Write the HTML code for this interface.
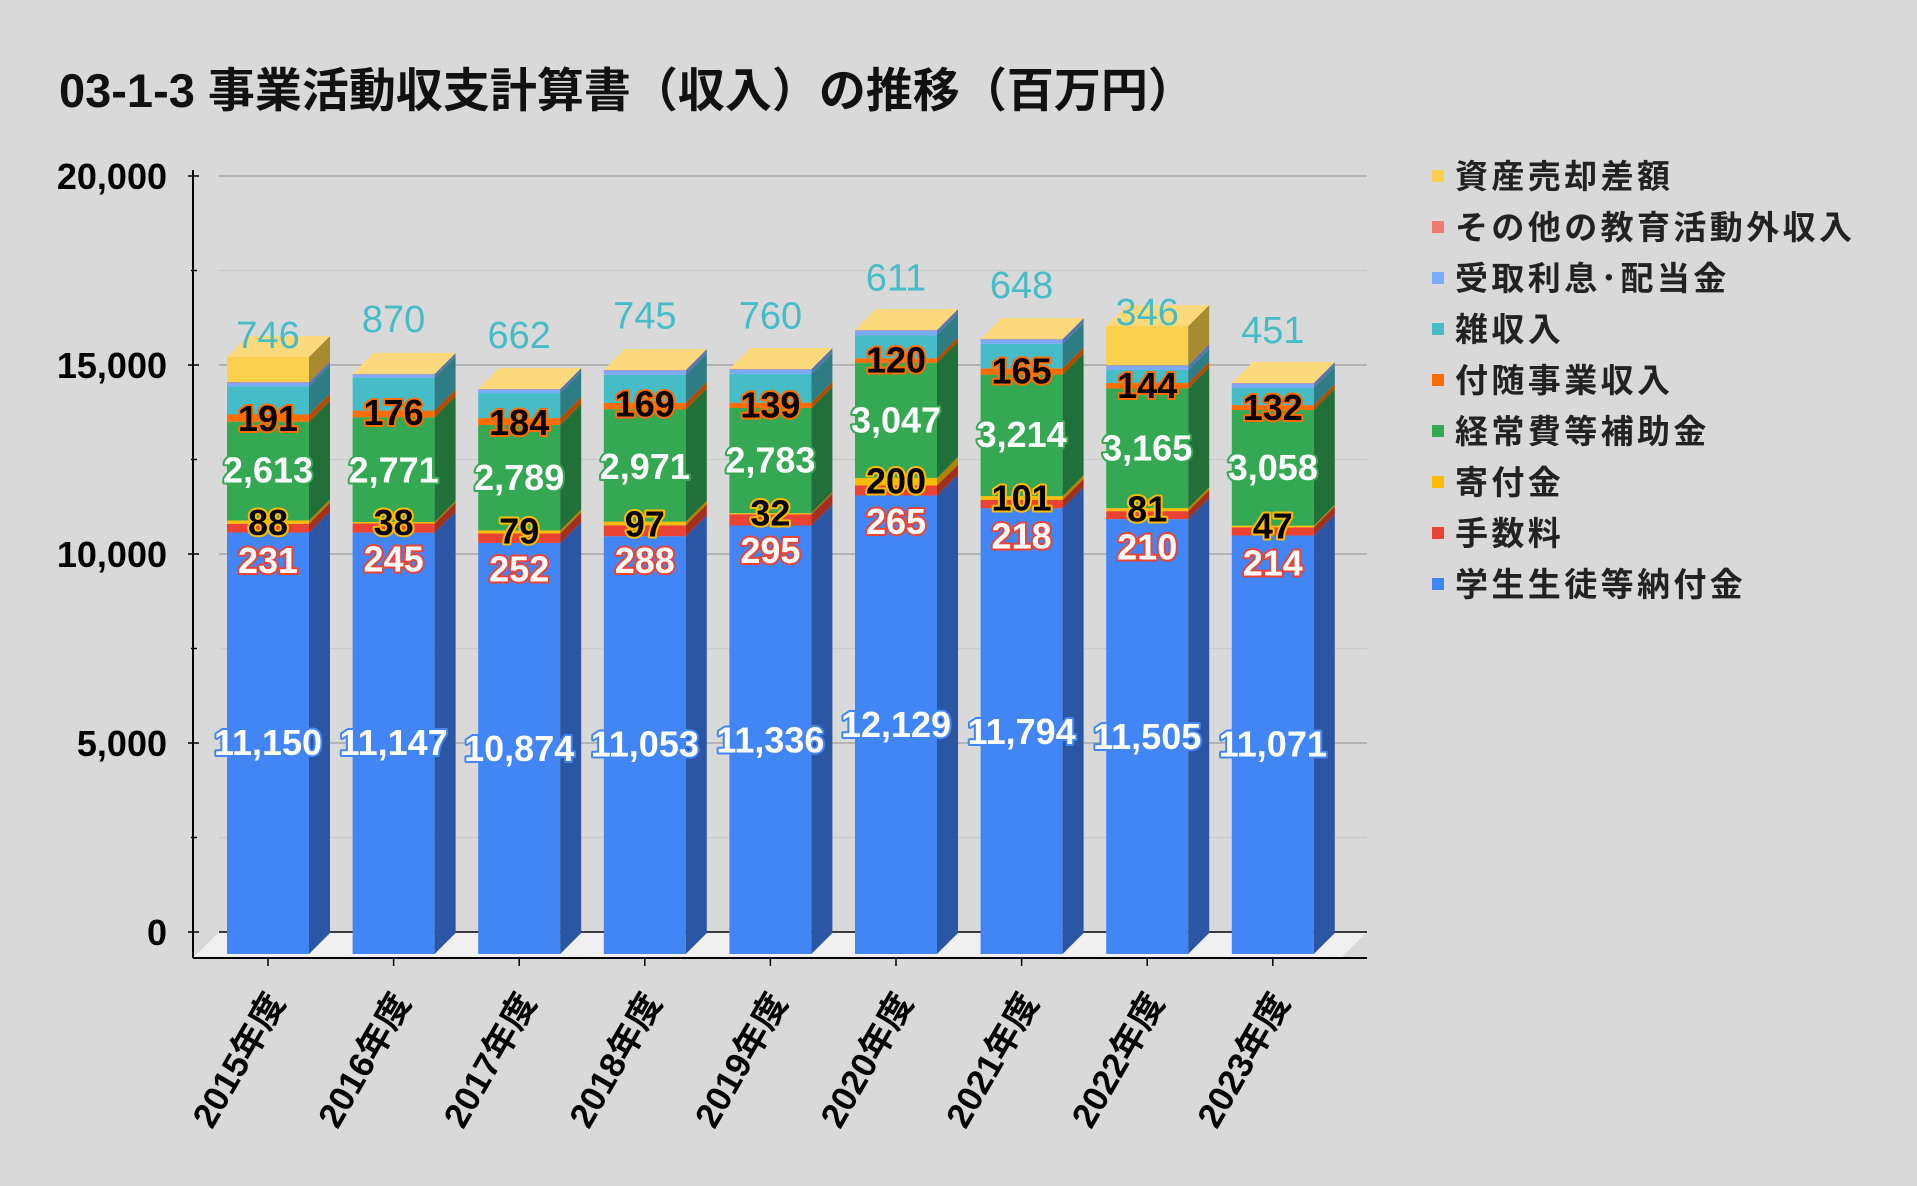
<!DOCTYPE html>
<html><head><meta charset="utf-8"><style>
html,body{margin:0;padding:0;background:#d9d9d9;}
svg{display:block}
text{font-family:"Liberation Sans","Noto Sans CJK JP",sans-serif;}
</style></head><body>
<svg id="c" width="1917" height="1186" xmlns="http://www.w3.org/2000/svg">
<rect width="1917" height="1186" fill="#d9d9d9"/>
<text x="59" y="107" font-size="47" font-weight="bold" fill="#111">03-1-3 事業活動収支計算書（収入）の推移（百万円）</text>
</svg>
<script>
var s=document.getElementById('c'),NS='http://www.w3.org/2000/svg';
function el(t,a,txt){var e=document.createElementNS(NS,t);for(var k in a)e.setAttribute(k,a[k]);if(txt!=null)e.textContent=txt;s.appendChild(e);return e;}
for(var i=0;i<=8;i++){var v=i*2500,y=932-v*189/5000;
 if(i>0)el('line',{x1:219,x2:1367,y1:y,y2:y,stroke:i%2==0?'#a8a8a8':'#cbcbcb','stroke-width':1.5});
 el('line',{x1:i%2==0?188:191,x2:i%2==0?199:197,y1:y,y2:y,stroke:'#000','stroke-width':1.5});
 if(i%2==0)el('text',{x:167,y:y+13,'font-size':36,'font-weight':'bold','text-anchor':'end',fill:'#000'},v.toLocaleString('en-US'));}
el('polygon',{points:'193,958 219,932 1367,932 1341,958',fill:'#f0f0f0'});
el('line',{x1:219,x2:1367,y1:932,y2:932,stroke:'#000','stroke-width':1.5});
el('line',{x1:193,x2:193,y1:170,y2:958,stroke:'#000','stroke-width':2});
el('line',{x1:193,x2:1367,y1:958,y2:958,stroke:'#000','stroke-width':2});
var cols=['#4285F4','#EA4335','#FBBC04','#34A853','#FF6D01','#46BDC6','#7BAAF7','#F07B72','#FCD04F'];
var side=['#2B56A3','#A3301F','#B08400','#21703A','#B34C00','#2F7D84','#5577AA','#A85650','#A88A30'];
var data=[
[11150,231,88,2613,191,746,100,15,660],
[11147,245,38,2771,176,870,90,10,0],
[10874,252,79,2789,184,662,97,10,0],
[11053,288,97,2971,169,745,115,12,0],
[11336,295,32,2783,139,760,120,11,0],
[12129,265,200,3047,120,611,125,11,0],
[11794,218,101,3214,165,648,120,10,0],
[11505,210,81,3165,144,346,120,10,1030],
[11071,214,47,3058,132,451,122,11,0]];
var ly=[[607,458,427,384,342,274],[607,457,427,384,337,261],[612,465,434,390,345,274],[608,458,428,381,330,258],[605,450,419,376,331,258],[592,426,393,343,294,227],[598,438,407,355,303,233],[602,447,416,366,315,255],[608,460,430,382,333,270]];
var k=189/5000,d=21,w=82;
for(var b=0;b<9;b++){var x=227+b*125.6,cx=x+41,y0=954;
 for(var j=0;j<9;j++){var h=data[b][j]*k;if(h<=0)continue;var y1=y0-h;
  el('rect',{x:x,y:y1,width:w,height:h,fill:cols[j]});
  el('polygon',{points:(x+w)+','+y0+' '+(x+w+d)+','+(y0-d)+' '+(x+w+d)+','+(y1-d)+' '+(x+w)+','+y1,fill:side[j]});
  y0=y1;}
 el('polygon',{points:x+','+y0+' '+(x+d)+','+(y0-d)+' '+(x+w+d)+','+(y0-d)+' '+(x+w)+','+y0,fill:'#FCD97A'});
 el('line',{x1:cx,x2:cx,y1:958,y2:966,stroke:'#000','stroke-width':1.5});
 var L=ly[b].map(function(v){return v*1.2226;});
 var st=[['#fff','#4285F4'],['#fff','#EA4335'],['#000','#FBBC04'],['#fff','#34A853'],['#000','#FF6D01']];
 for(var j=0;j<5;j++){el('text',{x:cx,y:L[j]+13,'font-size':36,'font-weight':'bold','text-anchor':'middle',fill:st[j][0],stroke:st[j][1],'stroke-width':4,'paint-order':'stroke','stroke-linejoin':'round'},data[b][j].toLocaleString('en-US'));}
 el('text',{x:cx,y:L[5]+13,'font-size':38,'text-anchor':'middle',fill:'#46BDC6'},data[b][5].toLocaleString('en-US'));
 el('text',{x:0,y:0,'font-size':35,'font-weight':'bold','text-anchor':'end',fill:'#000',transform:'translate('+(cx+18)+',1002) rotate(-60)'},(2015+b)+'年度');
}
var names=['資産売却差額','その他の教育活動外収入','受取利息･配当金','雑収入','付随事業収入','経常費等補助金','寄付金','手数料','学生生徒等納付金'];
for(var i=0;i<9;i++){var y=176+i*51;
 el('rect',{x:1432,y:y-6,width:12,height:12,fill:cols[8-i]});
 el('text',{x:1455,y:y+12,'font-size':33,'font-weight':'bold',fill:'#222','letter-spacing':'3.4'},names[i]);}
</script>
</body></html>
